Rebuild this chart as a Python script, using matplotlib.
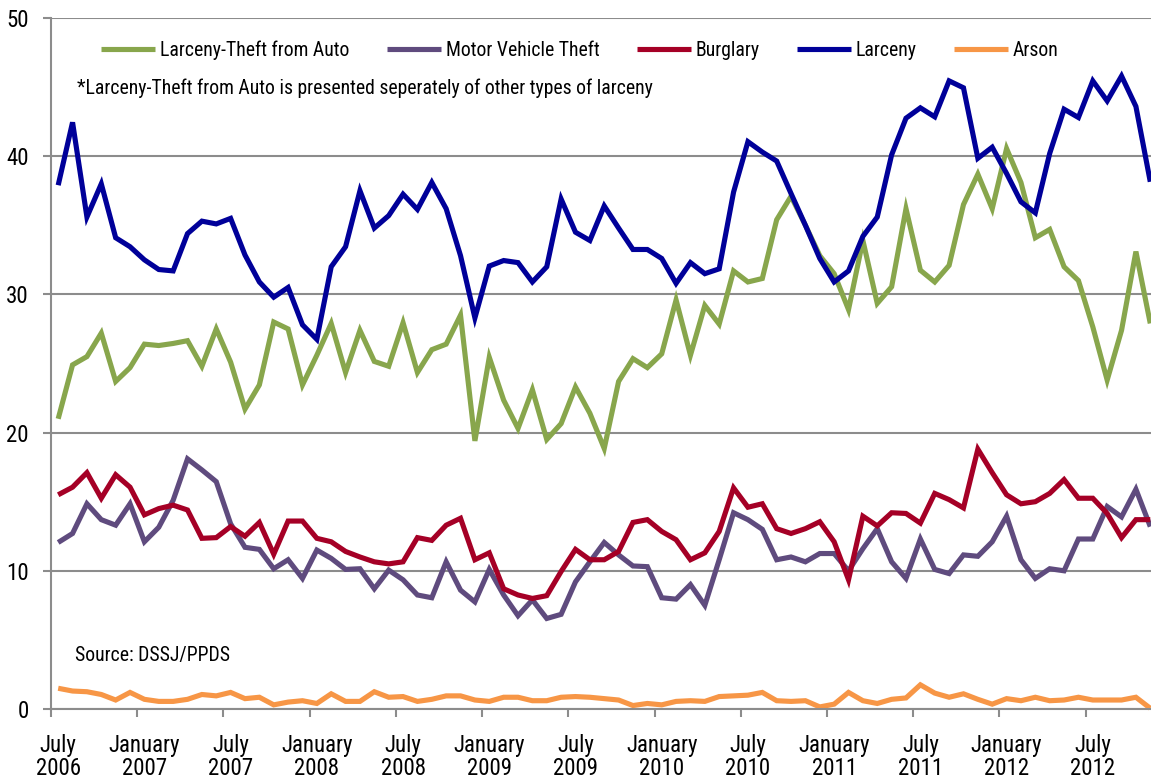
import matplotlib
matplotlib.use("Agg")
import matplotlib.pyplot as plt
from matplotlib import font_manager
from matplotlib.font_manager import FontProperties
from matplotlib.textpath import TextPath

# monthly values, July 2006 .. November 2012
larceny_auto = [21.0, 24.9, 25.5, 27.2, 23.7, 24.7, 26.4, 26.3, 26.45, 26.65,
                24.8, 27.5, 25.1, 21.7, 23.45, 28.0, 27.5, 23.45, 25.6, 27.9,
                24.35, 27.4, 25.15, 24.8, 27.95, 24.35, 26.0, 26.4, 28.5, 19.4,
                25.45, 22.35, 20.3, 23.1, 19.5, 20.65, 23.3, 21.4, 18.85, 23.7,
                25.35, 24.7, 25.7, 29.6, 25.6, 29.2, 27.85, 31.7, 30.9, 31.15,
                35.4, 37.1, 35.0, 32.8, 31.5, 28.9, 33.9, 29.35, 30.55, 36.2,
                31.75, 30.9, 32.1, 36.5, 38.7, 36.2, 40.55, 38.1, 34.1, 34.7,
                32.0, 31.0, 27.65, 23.8, 27.4, 33.1, 27.9]
motor_vehicle = [12.05, 12.7, 14.85, 13.7, 13.3, 14.85, 12.1, 13.15, 15.1, 18.1,
                 17.3, 16.45, 13.4, 11.7, 11.55, 10.15, 10.8, 9.45, 11.5, 10.9,
                 10.1, 10.15, 8.7, 10.05, 9.35, 8.25, 8.05, 10.65, 8.6, 7.75,
                 10.1, 8.25, 6.75, 7.9, 6.55, 6.85, 9.2, 10.65, 12.05, 11.15,
                 10.35, 10.3, 8.05, 7.95, 9.0, 7.5, 10.8, 14.2, 13.7, 13.0,
                 10.8, 11.0, 10.65, 11.25, 11.25, 10.0, 11.6, 13.05, 10.65, 9.45,
                 12.3, 10.1, 9.8, 11.15, 11.05, 12.1, 13.95, 10.8, 9.45, 10.15,
                 10.0, 12.3, 12.3, 14.65, 13.9, 15.9, 13.2]
burglary = [15.5, 16.05, 17.1, 15.25, 16.95, 16.05, 14.05, 14.5, 14.75, 14.4,
            12.35, 12.4, 13.2, 12.5, 13.5, 11.2, 13.6, 13.6, 12.35, 12.1,
            11.4, 11.0, 10.65, 10.5, 10.65, 12.4, 12.2, 13.3, 13.8, 10.8,
            11.3, 8.7, 8.25, 8.0, 8.2, 9.95, 11.55, 10.8, 10.8, 11.4,
            13.5, 13.7, 12.85, 12.25, 10.8, 11.3, 12.85, 16.0, 14.6, 14.85,
            13.05, 12.7, 13.05, 13.55, 12.1, 9.35, 13.95, 13.25, 14.2, 14.15,
            13.45, 15.6, 15.15, 14.55, 18.8, 17.1, 15.5, 14.85, 15.0, 15.6,
            16.6, 15.25, 15.25, 14.15, 12.4, 13.7, 13.7]
larceny = [37.9, 42.45, 35.6, 38.0, 34.1, 33.45, 32.5, 31.8, 31.7, 34.4,
           35.3, 35.1, 35.5, 32.85, 30.9, 29.8, 30.5, 27.8, 26.75, 32.0,
           33.45, 37.5, 34.8, 35.7, 37.25, 36.15, 38.1, 36.2, 32.8, 28.3,
           32.05, 32.45, 32.3, 30.9, 32.0, 36.9, 34.5, 33.9, 36.4, 34.8,
           33.25, 33.25, 32.6, 30.8, 32.3, 31.5, 31.85, 37.4, 41.05, 40.3,
           39.65, 37.3, 35.0, 32.6, 30.9, 31.7, 34.2, 35.6, 40.1, 42.75,
           43.5, 42.85, 45.45, 44.95, 39.85, 40.65, 38.75, 36.7, 35.9, 40.2,
           43.4, 42.8, 45.45, 44.0, 45.8, 43.6, 38.15]
arson = [1.5, 1.3, 1.25, 1.05, 0.65, 1.2, 0.7, 0.55, 0.55, 0.7,
         1.05, 0.95, 1.2, 0.75, 0.85, 0.3, 0.5, 0.6, 0.4, 1.1,
         0.55, 0.55, 1.25, 0.85, 0.9, 0.55, 0.7, 0.95, 0.95, 0.65,
         0.55, 0.85, 0.85, 0.6, 0.6, 0.85, 0.9, 0.85, 0.75, 0.65,
         0.25, 0.4, 0.3, 0.55, 0.6, 0.55, 0.9, 0.95, 1.0, 1.2,
         0.6, 0.55, 0.6, 0.15, 0.35, 1.2, 0.6, 0.4, 0.7, 0.8,
         1.75, 1.15, 0.85, 1.1, 0.7, 0.35, 0.75, 0.6, 0.85, 0.6,
         0.65, 0.85, 0.65, 0.65, 0.65, 0.85, 0.05]

tick_labels = ["July\n2006", "January\n2007", "July\n2007", "January\n2008",
               "July\n2008", "January\n2009", "July\n2009", "January\n2010",
               "July\n2010", "January\n2011", "July\n2011", "January\n2012",
               "July\n2012"]

series = [
    ("Larceny-Theft from Auto", larceny_auto, "#88A64C"),
    ("Motor Vehicle Theft", motor_vehicle, "#5F4B7E"),
    ("Burglary", burglary, "#A50026"),
    ("Larceny", larceny, "#000099"),
    ("Arson", arson, "#F79646"),
]

# look for a narrow sans font (the original uses Arial Narrow)
narrow = None
for pref in ["Liberation Sans Narrow", "Arial Narrow", "Roboto Condensed",
             "Open Sans Condensed", "Noto Sans Condensed"]:
    for f in font_manager.fontManager.ttflist:
        if f.name == pref and f.style == "normal" and f.weight in (400, "normal", "regular"):
            narrow = f.fname
            break
    if narrow:
        break
if narrow is None:
    for f in font_manager.fontManager.ttflist:
        if (f.name in ("DejaVu Sans", "Noto Sans", "Roboto", "Open Sans")
                and str(f.stretch) in ("condensed", "semi-condensed", "extra-condensed")
                and f.style == "normal" and f.weight in (400, "normal", "regular")):
            narrow = f.fname
            break
if narrow:
    base = FontProperties(fname=narrow)
else:
    base = FontProperties(family="Liberation Sans")


def fit_size(text, width_px, max_pt):
    # font size that makes text about width_px wide at 100 dpi
    w = TextPath((0, 0), text, size=10, prop=base).get_extents().width * 100 / 72
    return min(max_pt, 10 * width_px / w)


fs = fit_size("Larceny-Theft from Auto", 188, 15)
ts = min(16.5, fit_size("January", 68, 16.5) * 1.06)


def fp(size):
    p = base.copy()
    p.set_size(size)
    return p


grey = "#8C8C8C"
fig = plt.figure(figsize=(11.51, 7.8), dpi=100)
ax = fig.add_axes([51 / 1151, 71 / 780, 1100 / 1151, 691 / 780])

x = list(range(len(larceny)))
for name, vals, col in series:
    ax.plot(x, vals, color=col, lw=3.7, label=name, clip_on=False,
            solid_joinstyle="miter", solid_capstyle="butt")

ax.set_xlim(-0.5, 76.05)
ax.set_ylim(0, 50)
ax.set_yticks(range(0, 51, 10))
ax.yaxis.grid(True, color=grey, lw=1.5)
ax.set_axisbelow(True)

# tick marks between categories, labels on the month itself
ax.set_xticks([-0.5 + 6 * i for i in range(13)])
ax.set_xticklabels([])
ax.set_xticks([6 * i for i in range(13)], minor=True)
ax.set_xticklabels(tick_labels, minor=True, linespacing=1.0, fontproperties=fp(ts))
ax.set_yticklabels([str(v) for v in range(0, 51, 10)], fontproperties=fp(ts))
ax.tick_params(axis="x", which="minor", length=0, pad=18)
ax.tick_params(axis="x", which="major", length=6, width=1.5, color=grey)
ax.tick_params(axis="y", length=6, width=1.5, color=grey, pad=10)

for s in ["top", "right"]:
    ax.spines[s].set_visible(False)
for s in ["left", "bottom"]:
    ax.spines[s].set_color(grey)
    ax.spines[s].set_linewidth(1.5)

em = fs * 100 / 72
fig.legend(loc="center", bbox_to_anchor=(580 / 1151, 1 - 50 / 780), ncol=5,
           frameon=False, prop=fp(fs), handlelength=54 / em,
           handletextpad=5 / em, columnspacing=37 / em, borderaxespad=0)

fig.text(77 / 1151, 1 - 88 / 780,
         "*Larceny-Theft from Auto is presented seperately of other types of larceny",
         fontproperties=fp(fs), va="center", ha="left")
fig.text(75 / 1151, 1 - 655 / 780, "Source: DSSJ/PPDS",
         fontproperties=fp(fs), va="center", ha="left")

fig.savefig("out.png", dpi=100)
